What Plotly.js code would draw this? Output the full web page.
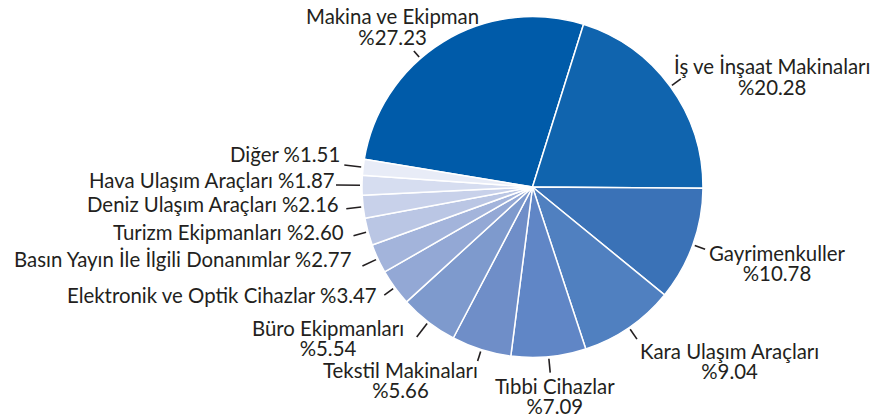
<!DOCTYPE html>
<html>
<head>
<meta charset="utf-8">
<script src="https://cdn.plot.ly/plotly-3.0.1.min.js"></script>
<style>html,body{margin:0;padding:0;background:#fff;}#chart{width:879px;height:418px;}</style>
</head>
<body>
<div id="chart"></div>
<script>
// ---- data ----
const categories = [
  "Makina ve Ekipman", "İş ve İnşaat Makinaları", "Gayrimenkuller", "Kara Ulaşım Araçları",
  "Tıbbi Cihazlar", "Tekstil Makinaları", "Büro Ekipmanları", "Elektronik ve Optik Cihazlar",
  "Basın Yayın İle İlgili Donanımlar", "Turizm Ekipmanları", "Deniz Ulaşım Araçları",
  "Hava Ulaşım Araçları", "Diğer"
];
const values = [27.23, 20.28, 10.78, 9.04, 7.09, 5.66, 5.54, 3.47, 2.77, 2.60, 2.16, 1.87, 1.51];
const colors = ["#005BA9", "#1064AE", "#3A72B7", "#5080C0", "#6086C6", "#6F8EC8", "#7E9ACD",
                "#93A8D5", "#A3B4DB", "#BAC6E4", "#C8D1EA", "#D6DDF0", "#E8ECF7"];

// ---- layout helpers (positions in pixels) ----
const W = 879, H = 418;
const CX = 532.5, CY = 187, R = 170.5;
const ROT = -80.6;
const FS = 20.4;
// label layout: mode 'two' = name / % on two centred lines, 'one' = single right-aligned line
const labelLayout = [
  {mode: "two", x: 392, y: 16, gap: 21, lead: 8, dAng: -9.5},
  {mode: "two", x: 772, y: 66, gap: 21, lead: 11, dAng: 0},
  {mode: "two", x: 777, y: 253, gap: 19.5, lead: 11, dAng: 0},
  {mode: "two", x: 729, y: 351, gap: 19.5, lead: 12, dAng: 0},
  {mode: "two", x: 555, y: 386, gap: 19.5, lead: 14, dAng: 0},
  {mode: "two", x: 400, y: 370, gap: 20, lead: 10, dAng: 0},
  {mode: "two", x: 328, y: 328, gap: 19.5, lead: 17, dAng: 0},
  {mode: "one", x: 378, y: 295, lead: 11, dAng: 0},
  {mode: "one", x: 353, y: 259, lead: 15, dAng: 0},
  {mode: "one", x: 345, y: 232, lead: 13, dAng: 0},
  {mode: "one", x: 340, y: 204, lead: 15, dAng: 0},
  {mode: "one", x: 336, y: 180, lead: 24, dAng: 0},
  {mode: "one", x: 341, y: 154, lead: 17, dAng: 0}
];

const total = values.reduce((a, b) => a + b, 0);
const px = x => x / W, py = y => 1 - y / H;
const family = "Lato, 'Open Sans', sans-serif";
const ink = "#231F20";

const annotations = [], shapes = [];
let acc = 0;
values.forEach((v, i) => {
  const mid = ROT + (acc + v / 2) / total * 360 + labelLayout[i].dAng;
  acc += v;
  const a = mid * Math.PI / 180;
  const r0 = R + 2, r1 = R + 2 + labelLayout[i].lead;
  shapes.push({type: "line", xref: "paper", yref: "paper",
    x0: px(CX + r0 * Math.sin(a)), y0: py(CY - r0 * Math.cos(a)),
    x1: px(CX + r1 * Math.sin(a)), y1: py(CY - r1 * Math.cos(a)),
    line: {color: ink, width: 1.6}});
  const L = labelLayout[i];
  const pct = "%" + v.toFixed(2);
  if (L.mode === "two") {
    // small base size sets the line spacing (1.3 × size); spans carry the visible glyph size
    const sp = s => '<span style="font-size:' + FS + 'px">' + s + '</span>';
    annotations.push({text: sp(categories[i]) + "<br>" + sp(pct),
      x: px(L.x), y: py(L.y + L.gap / 2), xref: "paper", yref: "paper",
      xanchor: "center", yanchor: "middle", align: "center", showarrow: false, borderpad: 0,
      font: {family: family, size: L.gap / 1.3, color: ink}});
  } else {
    annotations.push({text: categories[i] + " " + pct, x: px(L.x), y: py(L.y), xref: "paper", yref: "paper",
      xanchor: "right", yanchor: "middle", showarrow: false, borderpad: 0,
      font: {family: family, size: FS, color: ink}});
  }
});

const trace = {
  type: "pie",
  labels: categories,
  values: values,
  sort: false,
  direction: "clockwise",
  rotation: ROT,
  textinfo: "none",
  hoverinfo: "label+percent",
  marker: {colors: colors, line: {color: "#ffffff", width: 1.5}},
  domain: {x: [(CX - R) / W, (CX + R) / W], y: [1 - (CY + R) / H, 1 - (CY - R) / H]},
  showlegend: false
};

Plotly.newPlot("chart", [trace], {
  width: W, height: H,
  margin: {l: 0, r: 0, t: 0, b: 0},
  paper_bgcolor: "#ffffff",
  showlegend: false,
  annotations: annotations,
  shapes: shapes
}, {displayModeBar: false, staticPlot: true});
</script>
</body>
</html>
